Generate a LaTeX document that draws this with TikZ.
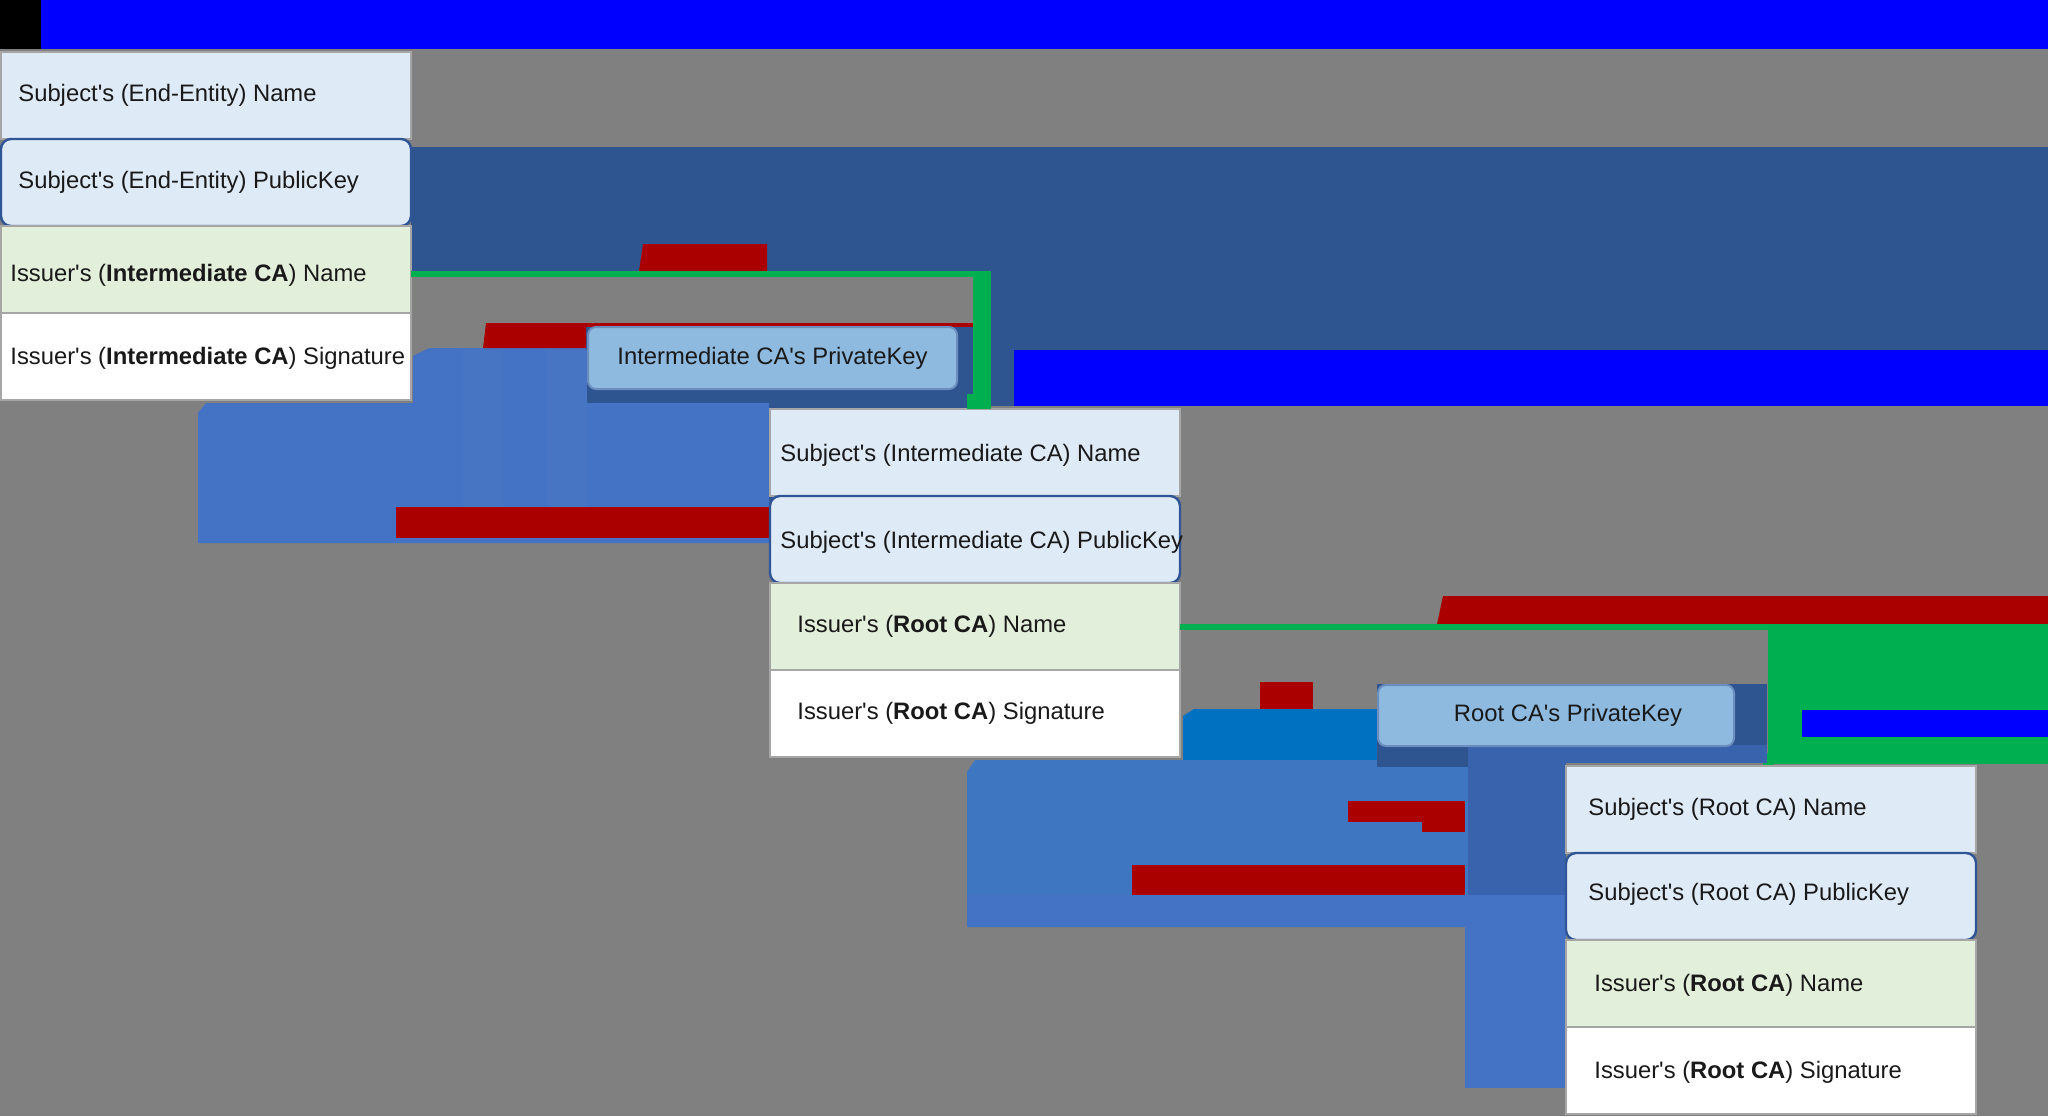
\documentclass[tikz,border=0pt]{standalone}
\usepackage{fontspec}
\setmainfont{Liberation Sans}
\usetikzlibrary{positioning}

\definecolor{bggray}{HTML}{808080}
\definecolor{pureblue}{HTML}{0000FF}
\definecolor{navyfill}{HTML}{2F5590}
\definecolor{midblue}{HTML}{3A63AE}
\definecolor{arrowblue}{HTML}{4472C4}
\definecolor{arrowblueb}{HTML}{3F76C1}
\definecolor{arrowstripe}{HTML}{4774C3}
\definecolor{oceanblue}{HTML}{0070C0}
\definecolor{labelred}{HTML}{AA0000}
\definecolor{linkgreen}{HTML}{00B050}
\definecolor{subjfill}{HTML}{DEEAF6}
\definecolor{issfill}{HTML}{E2EFDA}
\definecolor{keyfill}{HTML}{8FBAE0}
\definecolor{keyline}{HTML}{6C8EBF}
\definecolor{publine}{HTML}{2F5597}
\definecolor{fieldline}{HTML}{A6A6A6}

\newcommand{\apos}{\textquotesingle}

\tikzset{
  field/.style={draw=fieldline, line width=1pt, minimum width=205pt, minimum height=43.5pt, inner sep=0pt, outer sep=0pt},
  subjfield/.style={field, fill=subjfill},
  pubfield/.style={field, fill=subjfill, draw=publine, line width=1.2pt, rounded corners=5pt},
  issfield/.style={field, fill=issfill},
  sigfield/.style={field, fill=white},
  fieldtext/.style={inner sep=0pt, font=\fontsize{11.9}{14}\selectfont, text=black!90},
  keybox/.style={draw=keyline, fill=keyfill, line width=1pt, rounded corners=4pt, inner sep=0pt, font=\fontsize{11.9}{14}\selectfont, text=black!90},
}

\begin{document}
\begin{tikzpicture}[x=0.5pt, y=-0.5pt]
\fill[bggray] (0,0) rectangle (2048,1116);
\useasboundingbox (0,0) rectangle (2048,1116);

% top band
\fill[black] (0,0) rectangle (41,49);
\fill[pureblue] (41,0) rectangle (2048,49);

% background blocks, intermediate part
\fill[navyfill] (411,147) rectangle (2048,272);
\fill[navyfill] (991,272) rectangle (2048,406);
\fill[navyfill] (585,326) rectangle (973,507);
\fill[pureblue] (1014,350) rectangle (2048,406);
\fill[arrowblue] (198,413) -- (206,403) -- (769,403) -- (769,543) -- (198,543) -- cycle;
\fill[arrowblue] (413,356) -- (429,348) -- (586,348) -- (586,403) -- (413,403) -- cycle;
\foreach \x in {463, 547}
  \fill[arrowstripe] (\x,350) rectangle ++(40,157);
\fill[labelred] (643,244) -- (767,244) -- (767,271) -- (639,271) -- cycle;
\fill[labelred] (486,323) -- (586,323) -- (586,348) -- (483,348) -- cycle;
\fill[labelred] (586,323) rectangle (973,327);
\fill[labelred] (396,507) rectangle (769,538);

% background blocks, root part
\fill[labelred] (1443,596) -- (2048,596) -- (2048,624) -- (1437,624) -- cycle;
\fill[linkgreen] (1768,624) rectangle (2048,764);
\fill[linkgreen] (1763,753) rectangle (1773,767);
\fill[pureblue] (1802,710) rectangle (2048,737);
\fill[labelred] (1260,682) rectangle (1313,712);
\fill[oceanblue] (1183,716) -- (1194,709) -- (1377,709) -- (1377,760) -- (1183,760) -- cycle;
\fill[arrowblueb] (967,772) -- (975,760) -- (1471,760) -- (1471,927) -- (967,927) -- cycle;
\fill[arrowblue] (967,895) rectangle (1471,927);
\fill[navyfill] (1377,684) rectangle (1767,749);
\fill[navyfill] (1377,745) rectangle (1468,767);
\fill[midblue] (1468,745) rectangle (1767,763);
\fill[midblue] (1468,745) rectangle (1566,895);
\fill[arrowblue] (1465,895) rectangle (1566,1088);
\fill[labelred] (1348,801) rectangle (1465,822);
\fill[labelred] (1422,822) rectangle (1465,832);
\fill[labelred] (1132,865) rectangle (1465,895);

% end-entity certificate
\node[subjfield, anchor=north west] (ee-name) at (1,52) {};
\node[pubfield, below=0pt of ee-name] (ee-key) {};
\node[issfield, below=0pt of ee-key] (ee-iname) {};
\node[sigfield, below=0pt of ee-iname] (ee-sig) {};
\node[fieldtext, right=8.5pt of ee-name.west] (ee-name-t) {Subject\apos s (End-Entity) Name};
\node[fieldtext, right=8.5pt of ee-key.west] (ee-key-t) {Subject\apos s (End-Entity) PublicKey};
\node[fieldtext, right=4.5pt of ee-iname.west, yshift=-3pt] (ee-iname-t) {Issuer\apos s (\textbf{Intermediate CA}) Name};
\node[fieldtext, right=4.5pt of ee-sig.west, yshift=-1pt] (ee-sig-t) {Issuer\apos s (\textbf{Intermediate CA}) Signature};

% intermediate certificate
\node[keybox, minimum width=184.5pt, minimum height=31pt, anchor=north west] (int-pkey) at (587,326) {Intermediate CA\apos s PrivateKey};
\node[subjfield, anchor=north west] (int-name) at (770,409) {};
\node[pubfield, below=0pt of int-name] (int-key) {};
\node[issfield, below=0pt of int-key] (int-iname) {};
\node[sigfield, below=0pt of int-iname] (int-sig) {};
\node[fieldtext, right=5pt of int-name.west, yshift=-1.2pt] (int-name-t) {Subject\apos s (Intermediate CA) Name};
\node[fieldtext, right=5pt of int-key.west, yshift=-1.2pt] (int-key-t) {Subject\apos s (Intermediate CA) PublicKey};
\node[fieldtext, right=13.5pt of int-iname.west] (int-iname-t) {Issuer\apos s (\textbf{Root CA}) Name};
\node[fieldtext, right=13.5pt of int-sig.west] (int-sig-t) {Issuer\apos s (\textbf{Root CA}) Signature};

% root certificate
\node[keybox, minimum width=178pt, minimum height=30.5pt, anchor=north west] (root-pkey) at (1377,684) {\hspace*{12pt}Root CA\apos s PrivateKey};
\node[subjfield, anchor=north west] (root-name) at (1566,766) {};
\node[pubfield, below=0pt of root-name] (root-key) {};
\node[issfield, below=0pt of root-key] (root-iname) {};
\node[sigfield, below=0pt of root-iname] (root-sig) {};
\node[fieldtext, right=11pt of root-name.west] (root-name-t) {Subject\apos s (Root CA) Name};
\node[fieldtext, right=11pt of root-key.west, yshift=1pt] (root-key-t) {Subject\apos s (Root CA) PublicKey};
\node[fieldtext, right=14pt of root-iname.west, yshift=-1pt] (root-iname-t) {Issuer\apos s (\textbf{Root CA}) Name};
\node[fieldtext, right=14pt of root-sig.west, yshift=-1pt] (root-sig-t) {Issuer\apos s (\textbf{Root CA}) Signature};

% issuer links
\coordinate (int-bend) at (982,274);
\coordinate (root-bend) at (1768,627);
\draw[linkgreen, line width=3pt] (ee-iname.east |- int-bend) -- ([xshift=4.5pt]int-bend);
\draw[linkgreen, line width=9pt] ([yshift=1.5pt]int-bend) -- (int-bend |- int-name.north);
\fill[linkgreen] (967,394) rectangle (973,409);
\draw[linkgreen, line width=3pt] (int-iname.east) -- (int-iname.east -| root-bend);
\end{tikzpicture}
\end{document}
